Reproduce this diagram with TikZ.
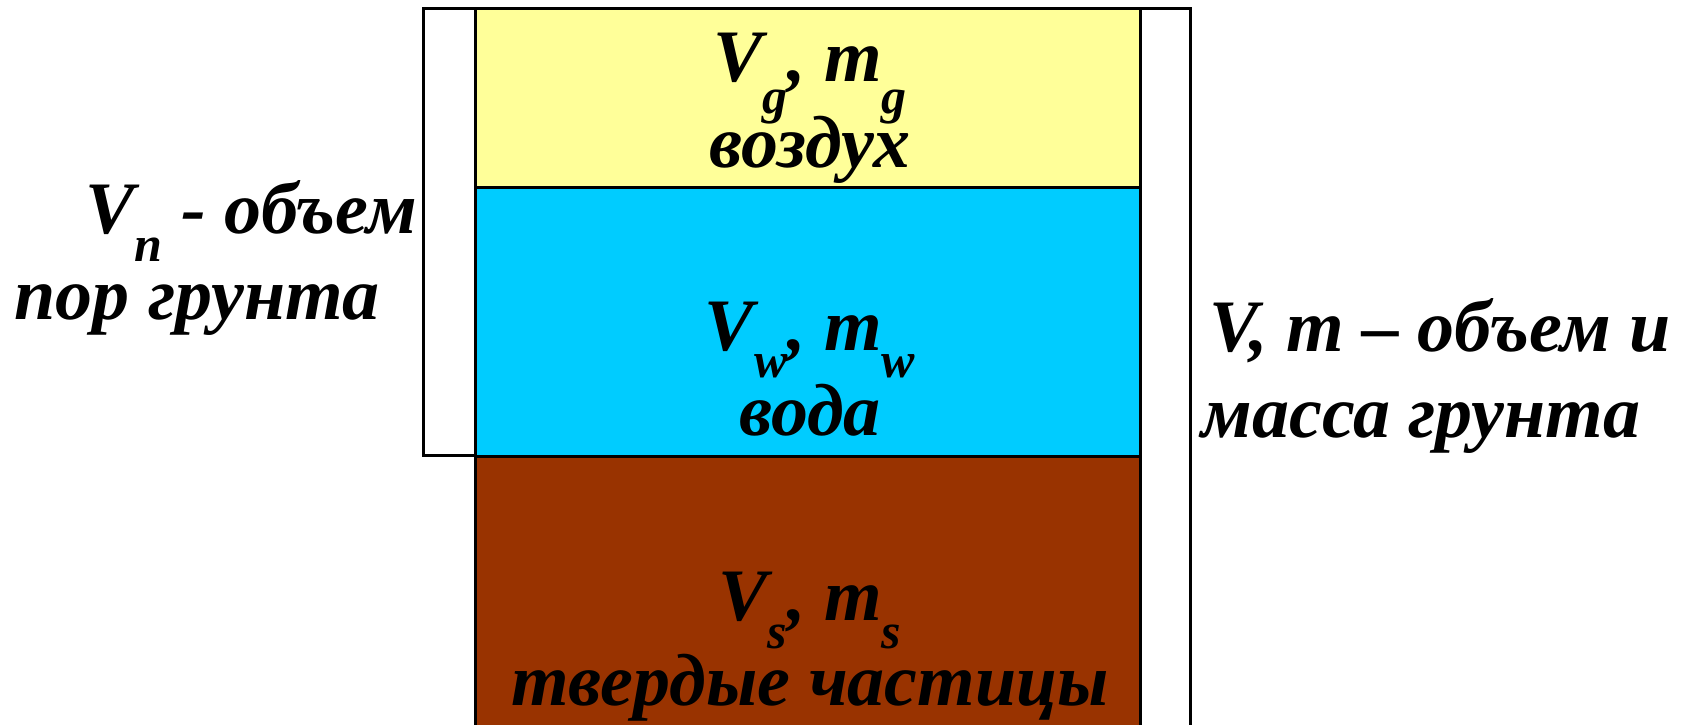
\documentclass[tikz,border=0pt]{standalone}
\usepackage{fontspec}
\setmainfont{Liberation Serif}
\usetikzlibrary{positioning}
\definecolor{aircolor}{RGB}{255,255,153}
\definecolor{watercolor}{RGB}{0,204,255}
\definecolor{soilcolor}{RGB}{153,51,0}
% lowered, smaller subscript
\newcommand{\dn}[2]{\raisebox{-#1}{\fontsize{25}{25}\selectfont #2}}

\begin{document}
\begin{tikzpicture}[x=0.5pt, y=-0.5pt, line width=1.5pt,
    lbl/.style={inner sep=0pt, font=\fontsize{37}{40}\selectfont\bfseries\itshape}]
                \useasboundingbox (0,0) rectangle (1683,724);
                % three layers of the soil sample
                \filldraw[fill=white] (423,8) rectangle (475,455);
                \filldraw[fill=aircolor] (475,8) rectangle (1140,187);
                \filldraw[fill=watercolor] (475,187) rectangle (1140,456);
                \filldraw[fill=soilcolor] (475,456) rectangle (1140,740);
                \filldraw[fill=white] (1140,8) rectangle (1190,740);

                \node[lbl, anchor=base] (airsym) at (810,81) {V\dn{16pt}{g}, m\dn{16pt}{g}};
                \node[lbl, anchor=base] (airname) at (810,167) {воздух};
                \node[lbl, anchor=base] (watersym) at (810,350) {V\dn{13.5pt}{w}, m\dn{13.5pt}{w}};
                \node[lbl, anchor=base] (watername) at (810,435) {вода};
                \node[lbl, anchor=base] (soilsym) at (810,620) {V\dn{14pt}{s}, m\dn{14pt}{s}};
                \node[lbl, anchor=base] (soilname) at (810,705) {твердые частицы};

                % side captions
                \node[lbl, anchor=base west] (poresym) at (84,233) {V\dn{14pt}{n} - объем};
                \node[lbl, anchor=base west] (porename) at (13,319) {пор грунта};
                \node[lbl, anchor=base west] (totalsym) at (1208,351) {V, m – объем и};
                \node[lbl, anchor=base west] (totalname) at (1200,437) {масса грунта};
            \end{tikzpicture}
\end{document}
